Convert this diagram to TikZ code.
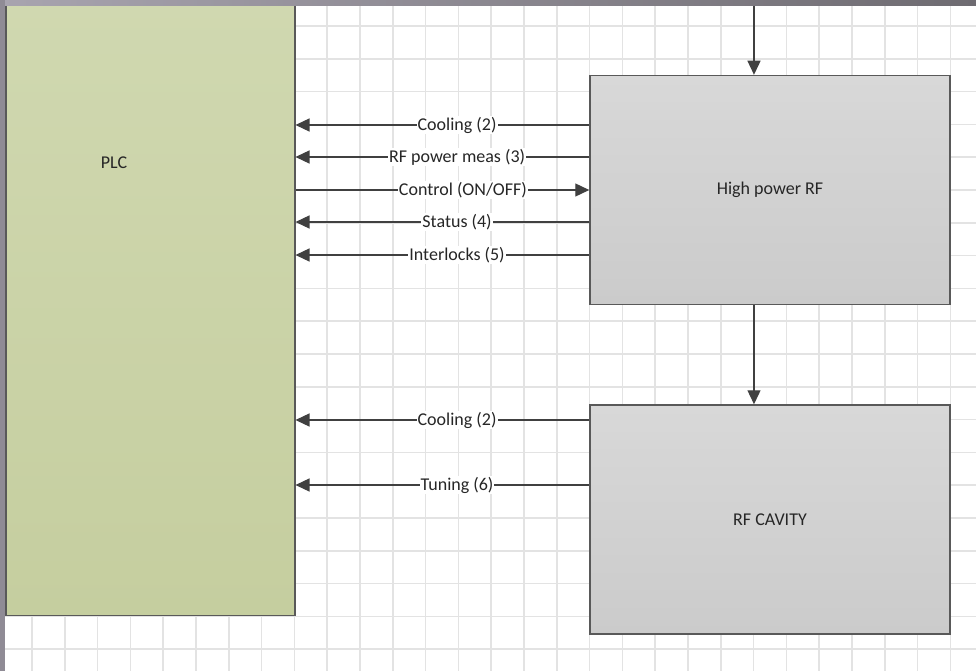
\documentclass[tikz,border=0pt]{standalone}
\usepackage{fontspec}
\setmainfont{Carlito}
\usetikzlibrary{arrows.meta,positioning}
\definecolor{framelight}{HTML}{A8A4AF}
\definecolor{framedark}{HTML}{6E6B71}
\definecolor{frameside}{HTML}{8F8B95}
\definecolor{gridgray}{HTML}{E3E3E3}
\definecolor{edge}{HTML}{595959}
\definecolor{wire}{HTML}{404040}
\definecolor{plctop}{HTML}{D0D8B0}
\definecolor{plcbot}{HTML}{C5CE9F}
\definecolor{boxtop}{HTML}{D8D8D8}
\definecolor{boxbot}{HTML}{CBCBCB}
\definecolor{ink}{HTML}{262626}

\begin{document}
\begin{tikzpicture}[x=1pt,y=-1pt,
  font=\fontsize{18}{21}\selectfont,
  gridline/.style={draw=gridgray,line width=1.6pt},
  box/.style={draw=edge,line width=1.5pt,top color=boxtop,bottom color=boxbot,
    minimum width=360pt,minimum height=229pt,text=ink},
  plcbox/.style={draw=edge,line width=1.5pt,top color=plctop,bottom color=plcbot,
    minimum width=289pt,minimum height=616pt},
  sig/.style={fill=white,inner sep=1pt,text=ink},
  arr/.style={-{Triangle[length=14pt,width=13pt]},line width=1.3pt,draw=wire}
]
\useasboundingbox (0,0) rectangle (976,671);
\fill[white] (0,0) rectangle (976,671);
% grid
\foreach \i in {0,...,28}
  \draw[gridline] ({32+32.8*\i},0) -- ++(0,671);
\foreach \j in {0,...,19}
  \draw[gridline] (0,{26+32.8*\j}) -- ++(976,0);

\node[plcbox,anchor=south west] (plc) at (5,616) {};
\node[text=ink] (plctext) at (114,163) {PLC};
\node[box] (hprf) at (770,190) {High power RF};
\node[box,below=99pt of hprf] (cavity) {RF CAVITY};
\coordinate (feed) at (754,0);

\draw[arr] (feed) -- (feed |- hprf.north);
\draw[arr] (hprf.south -| feed) -- (cavity.north -| feed);
\foreach \y/\txt in {125/{Cooling (2)},157/{RF power meas (3)},222/{Status (4)},255/{Interlocks (5)}}
  \draw[arr] (hprf.west |- 0,\y) -- node[sig,pos=0.45] {\txt} (plc.east |- 0,\y);
\draw[arr] (plc.east |- 0,190) -- node[sig,pos=0.57] {Control (ON/OFF)} (hprf.west |- 0,190);
\draw[arr] (cavity.west |- 0,420) -- node[sig,pos=0.45] {Cooling (2)} (plc.east |- 0,420);
\draw[arr] (cavity.west |- 0,485) -- node[sig,pos=0.45] {Tuning (6)} (plc.east |- 0,485);

% window frame
\shade[left color=framelight,right color=framedark] (0,0) rectangle (976,6);
\fill[frameside] (0,0) rectangle (5,671);
\end{tikzpicture}
\end{document}
